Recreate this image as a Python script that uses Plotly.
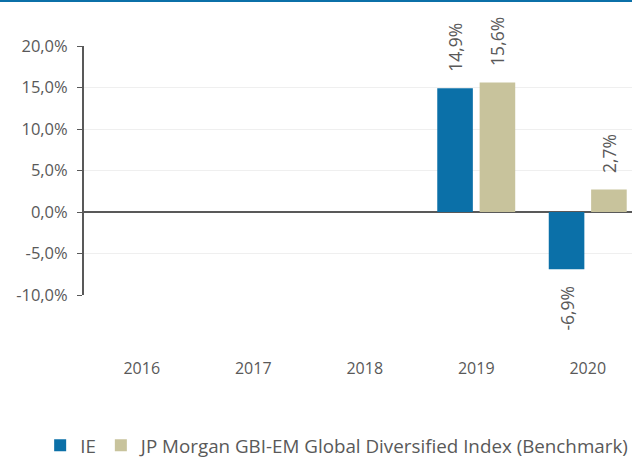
import plotly.graph_objects as go

years = ["2016", "2017", "2018", "2019", "2020"]
ie = [None, None, None, 14.9, -6.9]
bench = [None, None, None, 15.6, 2.7]
names = ["IE", "JP Morgan GBI-EM Global Diversified Index (Benchmark)"]
colors = ["#0b70a8", "#c8c39c"]
y_ticks = [-10, -5, 0, 5, 10, 15, 20]
y_ticktext = ["-10,0%", "-5,0%", "0,0%", "5,0%", "10,0%", "15,0%", "20,0%"]

FONT = "Open Sans"
GRAY = "#595959"
PAD = "\u00a0\u00a0\u00a0"

fig = go.Figure()
for vals, name, col in zip([ie, bench], names, colors):
    tt = [(PAD + "%{y:.1f}%") if (v is not None and v >= 0) else ("%{y:.1f}%" + PAD) for v in vals]
    fig.add_trace(go.Bar(
        x=years, y=vals, name=name, marker=dict(color=col, line=dict(width=0)),
        texttemplate=tt, textposition="outside", textangle=-90, constraintext="none",
        textfont=dict(family=FONT, size=17.5, color=GRAY), cliponaxis=False,
    ))

fig.update_layout(
    width=632, height=459,
    margin=dict(l=84, r=0, t=46, b=164, autoexpand=False),
    paper_bgcolor="white", plot_bgcolor="white",
    barmode="group", bargap=0.24, bargroupgap=0.16,
    separators=",.",
    font=dict(family=FONT, size=16, color=GRAY),
    showlegend=True,
    legend=dict(orientation="h", x=-0.08, xanchor="left", y=-0.605, yanchor="middle",
                font=dict(family=FONT, size=18.8, color=GRAY), itemwidth=30,
                traceorder="normal"),
    xaxis=dict(range=[-0.518, 4.397], showline=False, ticks="", showgrid=False, automargin=False,
               ticklabelstandoff=62, tickfont=dict(family=FONT, size=16, color=GRAY)),
    yaxis=dict(range=[-10, 20], tickvals=y_ticks, ticktext=y_ticktext, automargin=False,
               showline=True, linecolor=GRAY, linewidth=2, ticks="outside", ticklen=5,
               ticklabelstandoff=6,
               tickcolor=GRAY, tickwidth=1, showgrid=True, gridcolor="#efefef", gridwidth=1,
               zeroline=True, zerolinecolor=GRAY, zerolinewidth=2,
               tickfont=dict(family=FONT, size=16.5, color=GRAY)),
    shapes=[dict(type="line", xref="paper", yref="paper", x0=-0.2, x1=1.05,
                 y0=1 + 45.5 / 249, y1=1 + 45.5 / 249, line=dict(color="#0b70a8", width=3))],
)

fig.write_html("out.html")
